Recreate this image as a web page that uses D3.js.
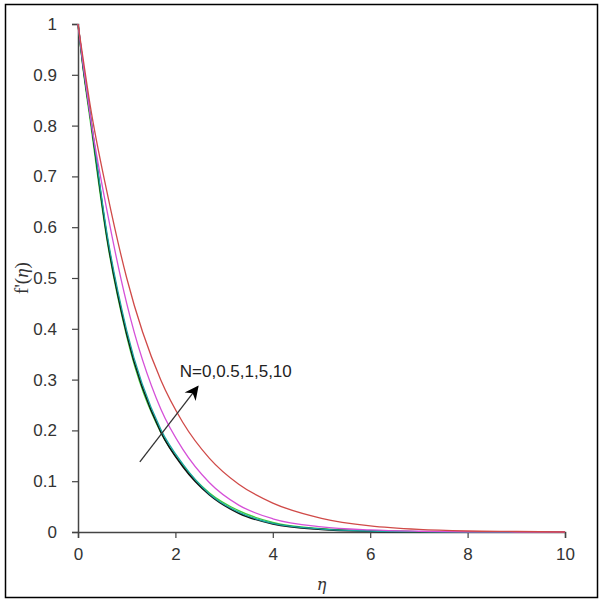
<!DOCTYPE html>
<html>
<head>
<meta charset="utf-8">
<script src="https://cdn.jsdelivr.net/npm/d3@7"></script>
<style>
  body { margin: 0; background: #fff; }
</style>
</head>
<body>
<svg id="chart"></svg>
<script>
// Data: eta and f'(eta) for each N
const eta = [0, 0.1, 0.25, 0.6, 1, 1.7, 2.15, 2.7, 3.3, 4, 5, 6, 7, 8, 9, 10];
const seriesNames = ["N=0", "N=0.5", "N=1", "N=5", "N=10"];
const seriesGreen   = [1, 0.915, 0.81, 0.572, 0.385, 0.196, 0.131, 0.077, 0.042, 0.019, 0.0065, 0.0022, 0.0007, 0, 0, 0];
const seriesBlack   = [1, 0.92, 0.82, 0.578, 0.39, 0.197, 0.129, 0.073, 0.037, 0.016, 0.0052, 0.0017, 0.0005, 0, 0, 0];
const seriesCyan    = [1, 0.922, 0.823, 0.585, 0.397, 0.202, 0.134, 0.075, 0.039, 0.017, 0.0058, 0.002, 0.0006, 0, 0, 0];
const seriesMagenta = [1, 0.925, 0.82, 0.63, 0.45, 0.242, 0.163, 0.097, 0.053, 0.026, 0.01, 0.004, 0.0015, 0.0005, 0, 0];
const seriesRed     = [1, 0.935, 0.84, 0.667, 0.5, 0.299, 0.216, 0.145, 0.094, 0.057, 0.027, 0.012, 0.005, 0.002, 0.001, 0];
const colors = ["#3ccf3c", "#111111", "#1aa7a0", "#d550d8", "#d04a48"];
const xTicks = [0, 2, 4, 6, 8, 10];
const yTicks = [0, 0.1, 0.2, 0.3, 0.4, 0.5, 0.6, 0.7, 0.8, 0.9, 1];
const annotation = { from: [1.27, 0.138], to: [2.46, 0.286], text: "N=0,0.5,1,5,10", at: [2.09, 0.305] };

const width = 604;
const height = 602;
const margin = { top: 24, right: 37, bottom: 70, left: 78 };

const svg = d3.select("#chart")
  .attr("width", width)
  .attr("height", height);

// outer frame
svg.append("rect")
  .attr("x", 5.5)
  .attr("y", 4.5)
  .attr("width", 592)
  .attr("height", 593)
  .attr("fill", "none")
  .attr("stroke", "#000")
  .attr("stroke-width", 1.5);

const x = d3.scaleLinear().domain([0, 10]).range([margin.left, width - margin.right - 2]);
const y = d3.scaleLinear().domain([0, 1]).range([height - margin.bottom, margin.top]);

// axes
const xAxis = svg.append("g")
  .attr("transform", `translate(0, ${y(0)})`)
  .call(d3.axisBottom(x).tickValues(xTicks).tickSize(6).tickPadding(10).tickFormat(d3.format("d")));

const yAxis = svg.append("g")
  .attr("transform", `translate(${x(0)}, 0)`)
  .call(d3.axisLeft(y).tickValues(yTicks).tickSize(6).tickPadding(15).tickFormat(d => d === 0 || d === 1 ? d : d.toFixed(1)));

[xAxis, yAxis].forEach(g => {
  g.select(".domain").attr("stroke", "#444").attr("stroke-width", 1.5);
  g.selectAll(".tick line").attr("stroke", "#444").attr("stroke-width", 1.2);
  g.selectAll(".tick text")
    .style("font-family", "Arial, 'Liberation Sans', sans-serif")
    .style("font-size", "17px")
    .attr("fill", "#333");
});

// axis titles
svg.append("text")
  .attr("x", (x(0) + x(10)) / 2)
  .attr("y", 590)
  .attr("text-anchor", "middle")
  .style("font-family", "'DejaVu Serif', 'Liberation Serif', serif")
  .style("font-style", "italic")
  .style("font-size", "16px")
  .attr("fill", "#333")
  .text("η");

svg.append("text")
  .attr("transform", `translate(28, ${y(0.5)}) rotate(-90)`)
  .attr("text-anchor", "middle")
  .style("font-family", "'Liberation Serif', 'DejaVu Serif', serif")
  .style("font-size", "19px")
  .attr("fill", "#333")
  .text("f'(")
  .append("tspan")
  .style("font-style", "italic")
  .text("η")
  .select(function () { return this.parentNode; })
  .append("tspan")
  .text(")");

// curves
const line = d3.line()
  .x((d, i) => x(eta[i]))
  .y(d => y(d))
  .curve(d3.curveMonotoneX);

const allSeries = [seriesGreen, seriesBlack, seriesCyan, seriesMagenta, seriesRed];
svg.append("g")
  .selectAll("path")
  .data(allSeries)
  .enter()
  .append("path")
  .attr("d", line)
  .attr("fill", "none")
  .attr("stroke", (d, i) => colors[i])
  .attr("stroke-width", (d, i) => i === 1 ? 1.6 : 1.3);

// arrow annotation
svg.append("defs").append("marker")
  .attr("id", "arrow")
  .attr("viewBox", "0 0 10 10")
  .attr("refX", 9)
  .attr("refY", 5)
  .attr("markerUnits", "userSpaceOnUse")
  .attr("markerWidth", 16)
  .attr("markerHeight", 14)
  .attr("orient", "auto")
  .append("path")
  .attr("d", "M0,0 L10,5 L0,10 L3,5 Z")
  .attr("fill", "#000");

svg.append("line")
  .attr("x1", x(annotation.from[0]))
  .attr("y1", y(annotation.from[1]))
  .attr("x2", x(annotation.to[0]))
  .attr("y2", y(annotation.to[1]))
  .attr("stroke", "#333")
  .attr("stroke-width", 1.3)
  .attr("marker-end", "url(#arrow)");

svg.append("text")
  .attr("x", x(annotation.at[0]))
  .attr("y", y(annotation.at[1]))
  .style("font-family", "Arial, 'Liberation Sans', sans-serif")
  .style("font-size", "17px")
  .attr("fill", "#222")
  .text(annotation.text);
</script>
</body>
</html>
